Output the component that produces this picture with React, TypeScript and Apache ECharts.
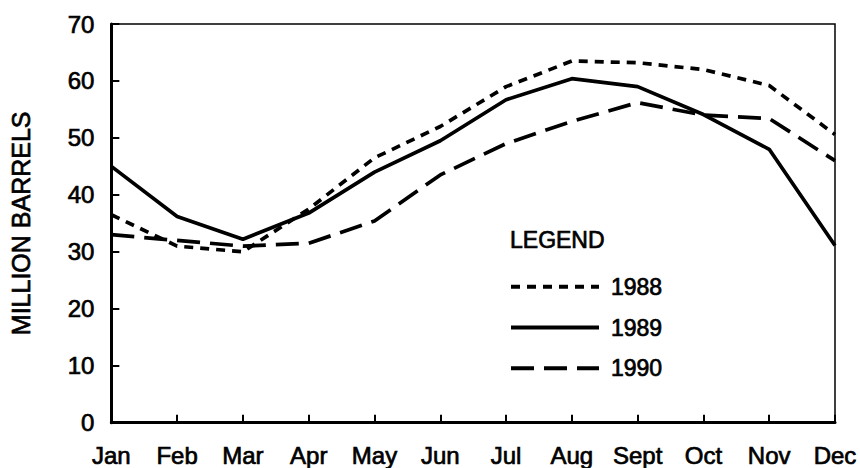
import React, { useEffect, useRef } from "react";
import * as echarts from "echarts";

const months = ["Jan", "Feb", "Mar", "Apr", "May", "Jun", "Jul", "Aug", "Sept", "Oct", "Nov", "Dec"];
const seriesNames = ["1988", "1989", "1990"];
const values1988 = [36.5, 31, 30, 37.5, 46.5, 52, 59, 63.5, 63.2, 62, 59.2, 50.6];
const values1989 = [45, 36.2, 32.2, 36.8, 44, 49.5, 56.7, 60.4, 59, 54.1, 48, 31.1];
const values1990 = [33, 32, 31, 31.5, 35.4, 43.5, 49, 52.9, 56.2, 54, 53.4, 46];
const yTicks = { min: 0, max: 70, interval: 10 };

const FONT = "'Liberation Sans', Arial, sans-serif";
const heavy = { textBorderColor: "#000", textBorderWidth: 0.7 };

export default function App() {
  const ref = useRef<HTMLDivElement>(null);
  useEffect(() => {
    if (!ref.current) return;
    const chart = echarts.init(ref.current, null, { renderer: "svg" });
    const lineBase = { color: "#000", width: 3.7 };
    chart.setOption({
      animation: false,
      backgroundColor: "#fff",
      textStyle: { fontFamily: FONT, color: "#000" },
      title: {
        text: "LEGEND",
        left: 510,
        top: 228,
        padding: 0,
        textStyle: { fontFamily: FONT, fontSize: 23, fontWeight: "normal", color: "#000", ...heavy },
      },
      legend: {
        orient: "vertical",
        left: 509,
        top: 275,
        padding: 0,
        itemWidth: 88,
        itemHeight: 22,
        itemGap: 17,
        data: seriesNames,
        itemStyle: { opacity: 0 },
        lineStyle: { width: 4 },
        textStyle: { fontFamily: FONT, fontSize: 23, fontWeight: "normal", color: "#000", padding: [0, 0, 0, 7], ...heavy },
        selectedMode: false,
      },
      grid: {
        left: 108,
        right: 25,
        top: 24,
        bottom: 43,
        show: true,
        borderColor: "#000",
        borderWidth: 1.5,
        containLabel: false,
      },
      xAxis: {
        type: "category",
        data: months,
        boundaryGap: false,
        axisLine: { show: true, lineStyle: { color: "#000", width: 3 } },
        axisTick: { show: true, inside: true, length: 8, lineStyle: { color: "#000", width: 2 } },
        axisLabel: { color: "#000", fontSize: 24, fontFamily: FONT, margin: 21, interval: 0, ...heavy },
        splitLine: { show: false },
      },
      yAxis: {
        type: "value",
        min: yTicks.min,
        max: yTicks.max,
        interval: yTicks.interval,
        name: "MILLION BARRELS",
        nameLocation: "middle",
        nameGap: 78,
        nameRotate: 90,
        nameTextStyle: { color: "#000", fontSize: 25, fontFamily: FONT, ...heavy },
        axisLine: { show: true, lineStyle: { color: "#000", width: 3 } },
        axisTick: { show: true, inside: true, length: 8, lineStyle: { color: "#000", width: 2 } },
        axisLabel: { color: "#000", fontSize: 24, fontFamily: FONT, margin: 17, ...heavy },
        splitLine: { show: false },
      },
      series: [
        {
          name: "1988",
          type: "line",
          data: values1988,
          symbol: "none",
          lineStyle: { ...lineBase, type: [9, 7] },
          itemStyle: { color: "#000" },
        },
        {
          name: "1989",
          type: "line",
          data: values1989,
          symbol: "none",
          lineStyle: { ...lineBase, type: "solid" },
          itemStyle: { color: "#000" },
        },
        {
          name: "1990",
          type: "line",
          data: values1990,
          symbol: "none",
          lineStyle: { ...lineBase, type: [23, 10] },
          itemStyle: { color: "#000" },
        },
      ],
    });
    return () => chart.dispose();
  }, []);
  return (
    <div
      ref={ref}
      style={{ position: "fixed", left: 0, top: 0, width: 860, height: 468, background: "#fff" }}
    />
  );
}
